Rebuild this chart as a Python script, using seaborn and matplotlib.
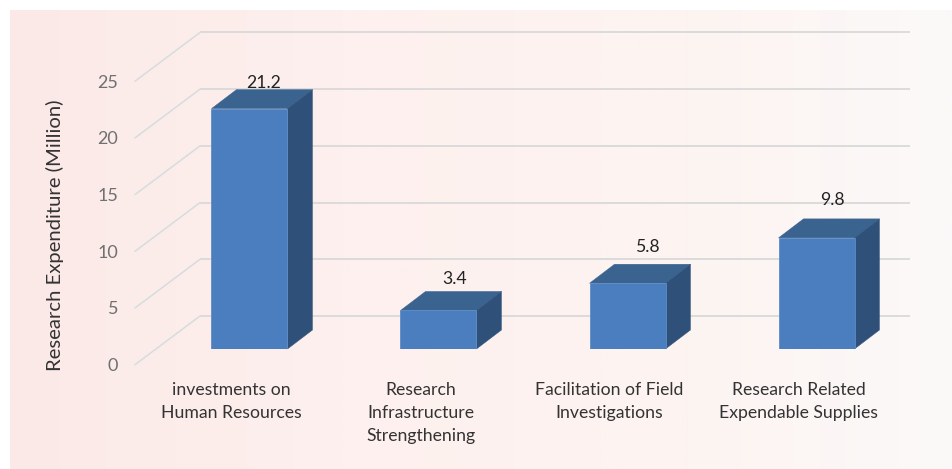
import numpy as np
import matplotlib
matplotlib.use("Agg")
import matplotlib.pyplot as plt
import seaborn as sns
from matplotlib.patches import Polygon
from matplotlib.transforms import Affine2D

categories = ["investments on\nHuman Resources", "Research\nInfrastructure\nStrengthening",
              "Facilitation of Field\nInvestigations", "Research Related\nExpendable Supplies"]
values = [21.2, 3.4, 5.8, 9.8]
value_labels = ["21.2", "3.4", "5.8", "9.8"]
y_ticks = [0, 5, 10, 15, 20, 25]

W, H = 953, 469
sns.set_theme(style="white")
plt.rcParams["font.family"] = ["Lato", "DejaVu Sans"]

fig = plt.figure(figsize=(W / 100, H / 100), dpi=100, facecolor="white")

def axes_px(left, right, top, bottom):
    return fig.add_axes([left / W, 1 - bottom / H, (right - left) / W, (bottom - top) / H])

# background gradient
bg = axes_px(10, 953, 10, 469)
bg.set_axis_off()
stops = np.array([[251, 233, 231], [253, 240, 238], [253, 244, 241], [251, 249, 249]]) / 255
xs = np.linspace(0, 1, 256)
grad = np.stack([np.interp(xs, [0, 0.35, 0.72, 1], stops[:, c]) for c in range(3)], axis=1)[None, :, :]
bg.imshow(grad, aspect="auto", extent=(0, 1, 0, 1), interpolation="bilinear")

PX_PER_UNIT = 11.34
Y0_FLOOR, Y0_BAR = 364.7, 349.0
X0, X1 = 137, 893
top = lambda y0: y0 - 25 * PX_PER_UNIT

# floor / wall axes (tick labels, grid)
ax = axes_px(X0, X1, top(Y0_FLOOR), Y0_FLOOR)
ax.patch.set_alpha(0)
ax.set_xlim(-0.5, 3.5)
ax.set_ylim(0, 25)
for s in ax.spines.values():
    s.set_visible(False)
ax.set_yticks(y_ticks)
ax.set_xticks(range(len(categories)), categories)
ax.tick_params(axis="y", length=0, pad=13.5, labelsize=13, labelcolor="#707070")
ax.tick_params(axis="x", length=0, pad=12.2, labelsize=12.7, labelcolor="#333333")
for t in ax.get_xticklabels():
    t.set_linespacing(1.56)
ax.set_ylabel("Research Expenditure (Million)", fontsize=14.6, color="#333333")
ax.yaxis.set_label_coords((64 - X0) / (X1 - X0), (Y0_FLOOR - 235) / (Y0_FLOOR - top(Y0_FLOOR)))

wall_up = Affine2D().translate(0, 48.7)
frac = lambda px: (px - X0) / (X1 - X0)
for v in y_ticks:
    ax.plot([frac(200), frac(910)], [v, v], color="#D9D9D9", lw=1.3, clip_on=False,
            transform=ax.get_yaxis_transform() + wall_up, solid_capstyle="butt")
    # diagonal: from front edge up to the wall
    p0 = ax.get_yaxis_transform().transform((frac(135), v))
    p1 = p0 + np.array([65, 48.7])
    ax.plot([p0[0], p1[0]], [p0[1], p1[1]], color="#D6DDDD", lw=1.1, clip_on=False,
            transform=Affine2D())
ax.set_xlim(-0.5, 3.5)
ax.set_ylim(0, 25)

# bars axes
bx = axes_px(X0 + 18, X1 + 18, top(Y0_BAR), Y0_BAR)
bx.patch.set_alpha(0)
sns.barplot(x=list(range(len(values))), y=values, ax=bx, color="#4A7EBE", saturation=1,
            width=76 / 189, edgecolor="#5F8CC6", linewidth=0.6, zorder=3)
bx.set_xlim(-0.5, 3.5)
bx.set_ylim(0, 25)
bx.set_axis_off()

dx = 25 / 189
dy = 19 / PX_PER_UNIT
for b in bx.patches[:len(values)]:
    x0, w, h = b.get_x(), b.get_width(), b.get_height()
    x1 = x0 + w
    bx.add_patch(Polygon([(x0, h), (x1, h), (x1 + dx, h + dy), (x0 + dx, h + dy)],
                         facecolor="#3A638F", edgecolor="#3A638F", lw=0.3, clip_on=False, zorder=2))
    bx.add_patch(Polygon([(x1, 0), (x1 + dx, dy), (x1 + dx, h + dy), (x1, h)],
                         facecolor="#2F5179", edgecolor="#2F5179", lw=0.3, clip_on=False, zorder=2))

label_dx = [14.5, 16.5, 21, 15.5]
label_dy = [6.5, 12, 17, 19]
for i, (v, s) in enumerate(zip(values, value_labels)):
    bx.annotate(s, (i, v + dy), xytext=(label_dx[i], label_dy[i]), textcoords="offset pixels",
                ha="center", va="center", fontsize=12.7, color="#222222", annotation_clip=False, zorder=5)

fig.savefig("out.png", dpi=100)
